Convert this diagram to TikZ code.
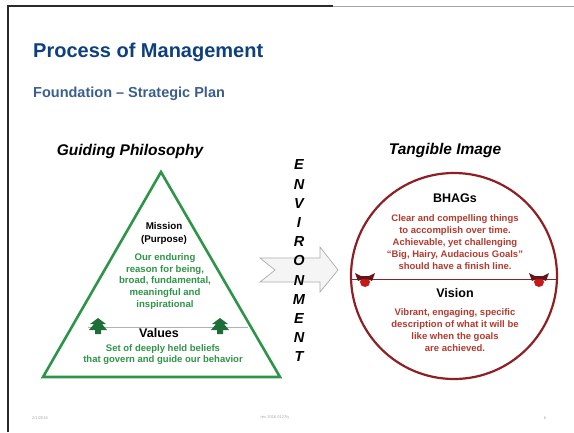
\documentclass[tikz,border=0pt]{standalone}
\usepackage{fontspec}
\setmainfont{Liberation Sans}
\definecolor{titleblue}{HTML}{0E3F7E}
\definecolor{subblue}{HTML}{3C5E8E}
\definecolor{tgreen}{HTML}{2E9447}
\definecolor{dgreen}{HTML}{1E6E3A}
\definecolor{cred}{HTML}{8E1F24}
\definecolor{tred}{HTML}{B33A2E}
\definecolor{framegray}{HTML}{2A2A2A}
\tikzset{
  heading/.style={font=\bfseries\itshape\fontsize{15.5}{18}\selectfont, text=black},
  greentxt/.style={font=\bfseries\fontsize{9.6}{11.7}\selectfont, text=tgreen, align=center},
  redtxt/.style={font=\bfseries\fontsize{9.5}{11.8}\selectfont, text=tred, align=center},
  blacklabel/.style={font=\bfseries\fontsize{12.5}{14}\selectfont, text=black},
  envletter/.style={font=\bfseries\itshape\fontsize{14.5}{16}\selectfont, text=black, inner sep=0pt},
  foot/.style={font=\fontsize{4}{5}\selectfont, text=gray!70},
}
\begin{document}
\begin{tikzpicture}[x=1pt,y=-1pt]
\useasboundingbox (0,0) rectangle (574,432);
% frame
\draw[framegray, line width=2pt] (8,432) -- (8,6) -- (333,6);
\draw[gray!70, line width=1pt] (333,6) -- (574,6);
% titles
\node[anchor=base west, font=\bfseries\fontsize{20}{24}\selectfont, text=titleblue, inner sep=0pt] (title) at (33,57) {Process of Management};
\node[anchor=base west, font=\bfseries\fontsize{14.5}{17}\selectfont, text=subblue, inner sep=0pt] (sub) at (33,97) {Foundation -- Strategic Plan};
% left heading
\node[heading] (gp) at (130,151) {Guiding Philosophy};
% triangle
\coordinate (apex) at (161,172);
\coordinate (bl) at (43,377);
\coordinate (br) at (280,377);
\draw[gray!60, line width=0.8pt] (88,327) -- (248,327);
\draw[tgreen, line width=2.6pt, line join=miter] (apex) -- (bl) -- (br) -- cycle;
% green markers
\foreach \mx in {98,220}{
  \fill[dgreen] (\mx,318) -- (\mx+8,324) -- (\mx+4,324) -- (\mx+9,330) -- (\mx+3,330) -- (\mx+3,334)
     -- (\mx-3,334) -- (\mx-3,330) -- (\mx-9,330) -- (\mx-4,324) -- (\mx-8,324) -- cycle;
}
\node[font=\bfseries\fontsize{9.8}{13}\selectfont, align=center] (mission) at (164,233.5) {Mission\\(Purpose)};
\node[greentxt] (mtext) at (165,281.5) {Our enduring\\reason for being,\\broad, fundamental,\\meaningful and\\inspirational};
\node[blacklabel] (values) at (159,333) {Values};
\node[greentxt, font=\bfseries\fontsize{9.5}{11.5}\selectfont] (vtext) at (163,354.5) {Set of deeply held beliefs\\that govern and guide our behavior};
% middle arrow
\fill[gray!8] (260,258) -- (320,258) -- (320,247) -- (338,270) -- (320,292) -- (320,282) -- (260,282) -- (275,270) -- cycle;
\draw[gray!65, line width=0.7pt] (260,258) -- (320,258) -- (320,247) -- (338,270) -- (320,292) -- (320,282) -- (260,282) -- (275,270) -- cycle;
% ENVIRONMENT
\foreach \l [count=\i from 0] in {E,N,V,I,R,O,N,M,E,N,T}{
  \node[envletter] (env\i) at (299,165+19.2*\i) {\l};
}
% right heading
\node[heading] (ti) at (445,150) {Tangible Image};
% circle
\draw[cred, line width=0.8pt] (352,279) -- (556,279);
\draw[cred, line width=2.2pt] (454,276) circle[radius=103];
% red markers
\foreach \mx in {365,539}{
  \fill[red!75!black!90] (\mx,282) circle[radius=5];
  \fill[cred!70!black] (\mx-10,273) -- (\mx-4,276) -- (\mx+4,276) -- (\mx+10,273) -- (\mx+7,281) -- (\mx+3,279) -- (\mx-3,279) -- (\mx-7,281) -- cycle;
}
\node[blacklabel] (bhags) at (455,198) {BHAGs};
\node[redtxt] (btext) at (455,242) {Clear and compelling things\\to accomplish over time.\\Achievable, yet challenging\\``Big, Hairy, Audacious Goals''\\should have a finish line.};
\node[blacklabel] (vision) at (455,293) {Vision};
\node[redtxt] (vistext) at (455,330) {Vibrant, engaging, specific\\description of what it will be\\like when the goals\\are achieved.};
% footer
\node[foot] (f1) at (40,418) {2/1/2016};
\node[foot] (f2) at (275,418) {rev 2016 0127ty};
\node[foot] (f3) at (545,418) {6};
\end{tikzpicture}
\end{document}
